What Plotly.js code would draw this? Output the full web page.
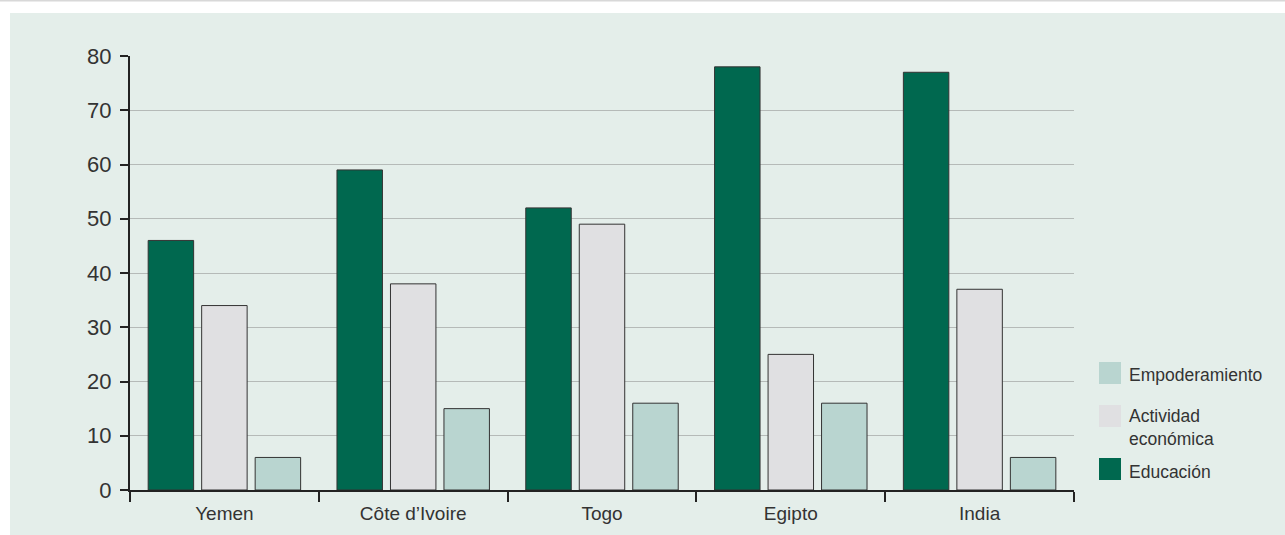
<!DOCTYPE html>
<html>
<head>
<meta charset="utf-8">
<script src="https://cdn.plot.ly/plotly-3.0.1.min.js"></script>
<style>
  html, body { margin: 0; padding: 0; background: #ffffff; }
  #chart { width: 1285px; height: 535px; }
</style>
</head>
<body>
<div id="chart"></div>
<script>
// ---- Data ----
const countries = ["Yemen", "Côte d’Ivoire", "Togo", "Egipto", "India"];
const educacion = [46, 59, 52, 78, 77];
const actividad = [34, 38, 49, 25, 37];
const empoderamiento = [6, 15, 16, 16, 6];
const seriesNames = ["Educación", "Actividad<br>económica", "Empoderamiento"];
const yTicks = [0, 10, 20, 30, 40, 50, 60, 70, 80];

// ---- Style ----
const colors = ["#00684F", "#E0E0E2", "#B9D5D0"];
const fontFamily = "'Liberation Sans', Arial, sans-serif";
const textColor = "#333333";

const seriesValues = [educacion, actividad, empoderamiento];
const traces = seriesValues.map((vals, i) => ({
  type: "bar",
  name: seriesNames[i],
  x: countries,
  y: vals,
  marker: { color: colors[i], line: { color: "#333333", width: 1 } },
  showlegend: false,
  hoverinfo: "x+y"
}));

// Plot area geometry (paper fractions used for legend & panel)
const L = 130, R = 1074, T = 56, B = 490, W = 1285, H = 535;
const pw = R - L, ph = B - T;
const px = v => (v - L) / pw;
const py = v => (B - v) / ph;

const shapes = [
  // background panel
  { type: "rect", xref: "paper", yref: "paper", layer: "below",
    x0: px(10), x1: px(W + 5), y0: py(H + 5), y1: py(13),
    fillcolor: "#E4EEEA", line: { width: 0 } },
  // top rule
  { type: "line", xref: "paper", yref: "paper", layer: "below",
    x0: px(0), x1: px(W + 5), y0: py(0.5), y1: py(0.5),
    line: { color: "#D8D8D8", width: 2 } }
];

// legend swatches (custom, larger squares)
const legendOrder = [2, 1, 0];
const swatchTops = [362, 405, 458];
const textCenters = [375, 427, 472];
const annotations = [];
legendOrder.forEach((si, k) => {
  shapes.push({ type: "rect", xref: "paper", yref: "paper",
    x0: px(1099), x1: px(1121), y0: py(swatchTops[k] + 22), y1: py(swatchTops[k]),
    fillcolor: colors[si], line: { width: 0 } });
  annotations.push({ xref: "paper", yref: "paper", x: px(1127), y: py(textCenters[k]),
    xanchor: "left", yanchor: "middle", align: "left", showarrow: false,
    text: seriesNames[si], font: { family: fontFamily, size: 17.5, color: textColor } });
});

const layout = {
  width: W, height: H,
  margin: { l: L, r: W - R, t: T, b: H - B, pad: 0 },
  paper_bgcolor: "#ffffff",
  plot_bgcolor: "rgba(0,0,0,0)",
  barmode: "group",
  bargap: 0.15,
  bargroupgap: 0.15,
  showlegend: false,
  font: { family: fontFamily, color: textColor },
  xaxis: {
    type: "category",
    showline: true, linecolor: "#222222", linewidth: 2,
    ticks: "outside", tickson: "boundaries", ticklen: 10, tickwidth: 2, tickcolor: "#222222",
    tickfont: { family: fontFamily, size: 19, color: textColor },
    ticklabelstandoff: 5,
    showgrid: false, zeroline: false, fixedrange: true
  },
  yaxis: {
    range: [0, 80],
    tickvals: yTicks,
    showline: true, linecolor: "#222222", linewidth: 2,
    ticks: "outside", ticklen: 8, tickwidth: 2, tickcolor: "#222222",
    tickfont: { family: fontFamily, size: 22, color: textColor },
    ticklabelstandoff: 4,
    showgrid: true, gridcolor: "#B5BAB8", gridwidth: 1,
    zeroline: false, fixedrange: true
  },
  shapes: shapes,
  annotations: annotations
};

Plotly.newPlot("chart", traces, layout, { displayModeBar: false, staticPlot: true });
</script>
</body>
</html>
